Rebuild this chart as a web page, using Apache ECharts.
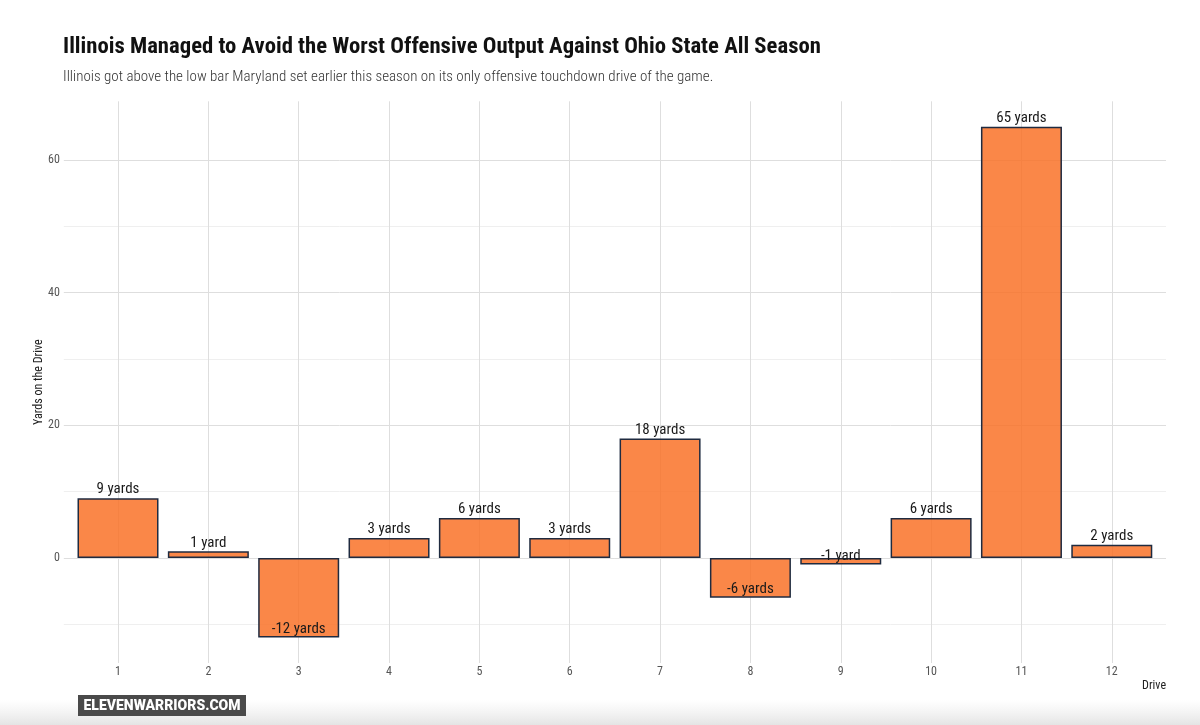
<!DOCTYPE html>
<html><head><meta charset="utf-8">
<script src="https://cdn.jsdelivr.net/npm/echarts@6/dist/echarts.min.js"></script>
<style>html,body{margin:0;padding:0;background:#fff}#c{width:1200px;height:725px}</style>
</head><body><div id="c"></div>
<script>
const drives = [1,2,3,4,5,6,7,8,9,10,11,12];
const yards = [9,1,-12,3,6,3,18,-6,-1,6,65,2];
const yTickStep = 20;
const COND = "'Roboto Condensed','Liberation Sans Narrow','DejaVu Sans Condensed','Roboto',sans-serif";

function labelText(v){ return v + (Math.abs(v) === 1 ? ' yard' : ' yards'); }

const lo = Math.min(0, Math.min(...yards)), hi = Math.max(...yards);
const pad = (hi - lo) * 0.05;

const chart = echarts.init(document.getElementById('c'), null, {renderer:'canvas'});
chart.setOption({
  backgroundColor:'#fff',
  animation:false,
  title:[
    {text:'Illinois Managed to Avoid the Worst Offensive Output Against Ohio State All Season',
     left:58, top:31, textStyle:{fontFamily:COND, fontWeight:'bold', fontSize:22.7, color:'#111'}},
    {text:'Illinois got above the low bar Maryland set earlier this season on its only offensive touchdown drive of the game.',
     left:58, top:65, textStyle:{fontFamily:COND, fontWeight:300, fontSize:15, color:'#333'}}
  ],
  grid:{left:63.8, right:34, top:101.3, bottom:62},
  xAxis:{
    type:'value', min:drives[0]-0.6, max:drives[drives.length-1]+0.6,
    minInterval:1, maxInterval:1,
    name:'Drive', nameLocation:'end', nameGap:0,
    nameTextStyle:{fontFamily:COND, fontSize:12, color:'#222', align:'right', verticalAlign:'top', padding:[17,0,0,0]},
    axisLine:{show:false, onZero:false}, axisTick:{show:false},
    axisLabel:{showMinLabel:false, showMaxLabel:false, margin:3, fontFamily:COND, fontSize:12, color:'#555'},
    splitLine:{show:true, showMinLine:false, showMaxLine:false, lineStyle:{color:'#dedede', width:1}}
  },
  yAxis:{
    type:'value', min:lo - pad, max:hi + pad,
    minInterval:yTickStep, maxInterval:yTickStep,
    name:'Yards on the Drive', nameLocation:'middle', nameGap:19, nameRotate:90, nameMoveOverlap:false,
    nameTextStyle:{fontFamily:COND, fontSize:12, color:'#222'},
    axisLine:{show:false}, axisTick:{show:false},
    axisLabel:{showMinLabel:false, showMaxLabel:false, margin:4, fontFamily:COND, fontSize:12, color:'#555'},
    splitLine:{show:true, showMinLine:false, showMaxLine:false, lineStyle:{color:'#dedede', width:1}},
    minorTick:{show:false, splitNumber:2},
    minorSplitLine:{show:true, lineStyle:{color:'#efefef', width:1}}
  },
  series:[{
    type:'bar',
    barWidth:81,
    data: drives.map((d,i)=>({
      value:[d, yards[i]],
      label:{position: yards[i] >= 0 ? 'top' : 'insideBottom', distance:1}
    })),
    itemStyle:{color:'rgba(249,114,40,0.85)', borderColor:'#1f2b40', borderWidth:1.5},
    label:{show:true, fontFamily:COND, fontSize:15, color:'#1a1a1a',
      formatter:p=>labelText(p.value[1])}
  }],
  graphic:[
    {type:'rect', shape:{x:0, y:700, width:1200, height:25},
     style:{fill:new echarts.graphic.LinearGradient(0,0,0,1,[{offset:0,color:'rgba(235,235,235,0)'},{offset:1,color:'rgba(228,228,228,1)'}])}, silent:true, z:-1},
    {type:'rect', shape:{x:78, y:695, width:168, height:21}, style:{fill:'#4a4a4a'}, z:10},
    {type:'text', x:162, y:706, z:11,
     style:{text:'ELEVENWARRIORS.COM', fill:'#fff', font:"900 14px 'Roboto',sans-serif", align:'center', verticalAlign:'middle', textAlign:'center', textVerticalAlign:'middle'}}
  ]
});
</script></body></html>
